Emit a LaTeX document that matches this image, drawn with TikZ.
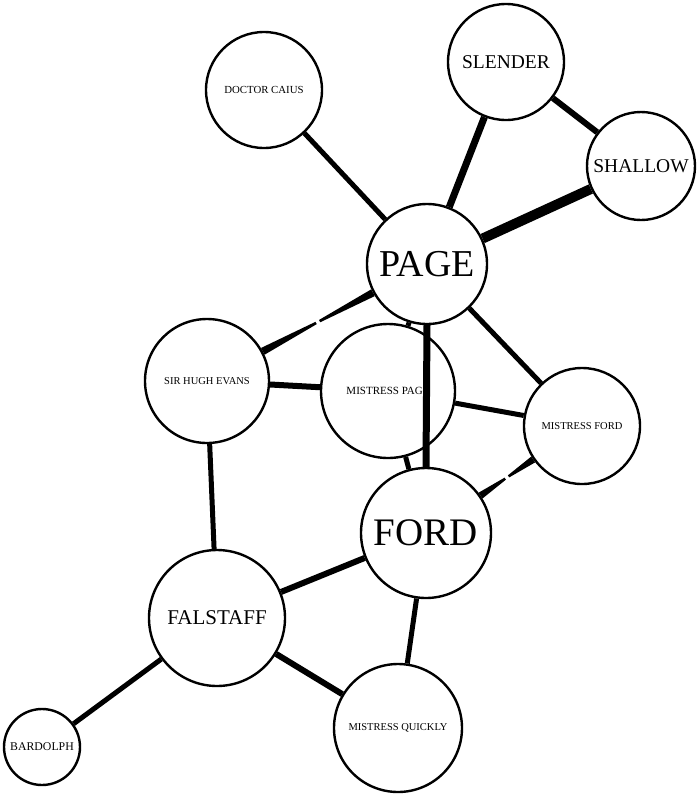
\documentclass[tikz,border=0pt]{standalone}
\usepackage{fontspec}
\setmainfont{Liberation Serif}
\usetikzlibrary{calc}
\tikzset{
  ch/.style={circle, draw, line width=2.4pt, fill=white, inner sep=0pt, align=center},
  lnk/.style={line width=#1},
}
\newcommand{\taperlink}[4]{%
  \path (#1) -- (#2) coordinate[pos=0] (ts) coordinate[pos=1] (te) coordinate[pos=0.5] (tm);
  \coordinate (tm1) at ($(tm)!2pt!(ts)$);
  \coordinate (tm2) at ($(tm)!2pt!(te)$);
  \fill ($(ts)!#3!90:(te)$) -- ($(ts)!#3!-90:(te)$) -- ($(tm1)!#4!-90:(te)$) -- ($(tm1)!#4!90:(te)$) -- cycle;
  \fill ($(te)!#3!-90:(ts)$) -- ($(te)!#3!90:(ts)$) -- ($(tm2)!#4!-90:(te)$) -- ($(tm2)!#4!90:(te)$) -- cycle;
}
\begin{document}
\begin{tikzpicture}[x=1pt,y=-1pt]
\useasboundingbox (0,0) rectangle (700,796);
\node[ch, minimum size=116pt, font=\fontsize{10.8}{12}\selectfont] (caius) at (264,90) {DOCTOR CAIUS};
\node[ch, minimum size=116pt, font=\fontsize{19.5}{22}\selectfont] (slender) at (506,62) {SLENDER};
\node[ch, minimum size=108pt, font=\fontsize{19.5}{22}\selectfont] (shallow) at (641,166) {SHALLOW};
\node[ch, minimum size=120pt, font=\fontsize{38}{40}\selectfont] (page) at (427,264) {PAGE};
\node[ch, minimum size=124pt, font=\fontsize{10.5}{12}\selectfont] (hugh) at (207,381) {SIR HUGH EVANS};
\node[ch, minimum size=134pt, font=\fontsize{11}{12}\selectfont] (mpage) at (388,391) {MISTRESS PAGE};
\node[ch, minimum size=116pt, font=\fontsize{10.5}{12}\selectfont] (mford) at (582,426) {MISTRESS FORD};
\node[ch, minimum size=130pt, font=\fontsize{39}{42}\selectfont] (ford) at (426,533) {FORD};
\node[ch, minimum size=136pt, font=\fontsize{21}{24}\selectfont] (falstaff) at (217,618) {FALSTAFF};
\node[ch, minimum size=76pt, font=\fontsize{11.8}{13}\selectfont] (bardolph) at (42,747) {BARDOLPH};
\node[ch, minimum size=128pt, font=\fontsize{10.5}{12}\selectfont] (quickly) at (398,728) {MISTRESS QUICKLY};

\draw[lnk=5pt] (caius) -- (page);
\draw[lnk=7pt] (slender) -- (page);
\draw[lnk=6pt] (slender) -- (shallow);
\draw[lnk=10pt] (shallow) -- (page);
\draw[lnk=5pt] (page) -- (mpage);
\draw[lnk=7pt] (page.south) -- (ford.north);
\draw[lnk=5pt] (page) -- (mford);
\draw[lnk=6pt] (hugh) -- (mpage);
\draw[lnk=5pt] (mpage) -- (mford);
\draw[lnk=5pt] (mpage) -- (ford);
\draw[lnk=5pt] (hugh) -- (falstaff);
\draw[lnk=6pt] (falstaff) -- (ford);
\draw[lnk=5pt] (falstaff) -- (bardolph);
\draw[lnk=6pt] (falstaff) -- (quickly);
\draw[lnk=5pt] (ford) -- (quickly);
\taperlink{hugh}{page}{3.8pt}{1.3pt}
\taperlink{mford}{ford}{3.5pt}{1.2pt}
\end{tikzpicture}
\end{document}
